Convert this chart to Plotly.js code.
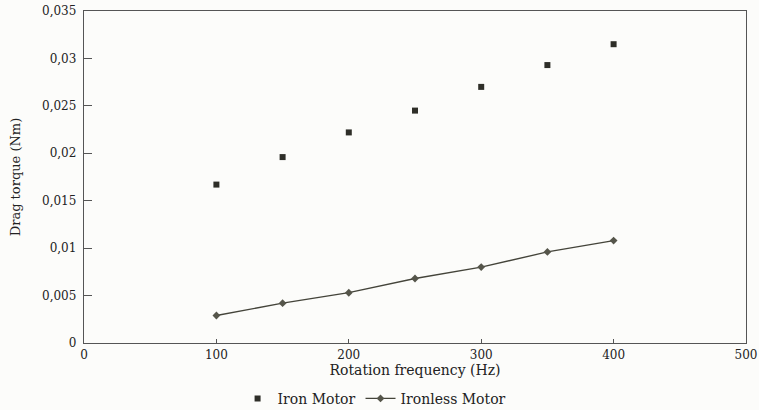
<!DOCTYPE html>
<html>
<head>
<meta charset="utf-8">
<script src="https://cdn.plot.ly/plotly-3.0.1.min.js"></script>
<style>html,body{margin:0;padding:0;background:#fcfcfa;}#chart{width:759px;height:410px;}</style>
</head>
<body>
<div id="chart"></div>
<script>
const frequency = [100, 150, 200, 250, 300, 350, 400];
const ironMotor = [0.0167, 0.0196, 0.0222, 0.0245, 0.0270, 0.0293, 0.0315];
const ironlessMotor = [0.0029, 0.0042, 0.0053, 0.0068, 0.0080, 0.0096, 0.0108];
const seriesNames = ["Iron Motor", "Ironless Motor"];

const ink = "#2e2e28";
const serif = "DejaVu Serif";
const traces = [
  {x: frequency, y: ironMotor, name: seriesNames[0], type: "scatter", mode: "markers",
   marker: {symbol: "square", size: 6, color: ink}},
  {x: frequency, y: ironlessMotor, name: seriesNames[1], type: "scatter", mode: "lines+markers",
   line: {color: "#44443a", width: 1.3}, marker: {symbol: "diamond", size: 6, color: "#55554a"}}
];
const layout = {
  width: 759, height: 410,
  paper_bgcolor: "#fcfcfa", plot_bgcolor: "#fcfcfa",
  separators: ", ",
  font: {family: serif, color: "#222", size: 12},
  margin: {l: 84, r: 13, t: 11, b: 67, autoexpand: false},
  showlegend: true,
  legend: {orientation: "h", x: 0.232, xanchor: "left", y: -0.168, yanchor: "middle",
           font: {family: serif, size: 14, color: "#222"}, bgcolor: "rgba(0,0,0,0)"},
  xaxis: {range: [0, 500], tickvals: [0, 100, 200, 300, 400, 500], ticks: "inside", ticklen: 4,
          showline: true, linecolor: "#555", linewidth: 1.2, mirror: true, showgrid: false, zeroline: false,
          tickcolor: "#555", tickfont: {family: serif, size: 12}, automargin: false,
          title: {text: "Rotation frequency (Hz)", font: {family: serif, size: 14}, standoff: 2}},
  yaxis: {range: [0, 0.035], dtick: 0.005, ticks: "inside", ticklen: 8,
          showline: true, linecolor: "#555", linewidth: 1.2, mirror: true, showgrid: false, zeroline: false,
          tickcolor: "#555", tickfont: {family: serif, size: 12}, ticklabelstandoff: 4, automargin: false,
          title: {text: "Drag torque (Nm)", font: {family: serif, size: 13}, standoff: 18}}
};
Plotly.newPlot("chart", traces, layout, {displayModeBar: false, staticPlot: true});
</script>
</body>
</html>
